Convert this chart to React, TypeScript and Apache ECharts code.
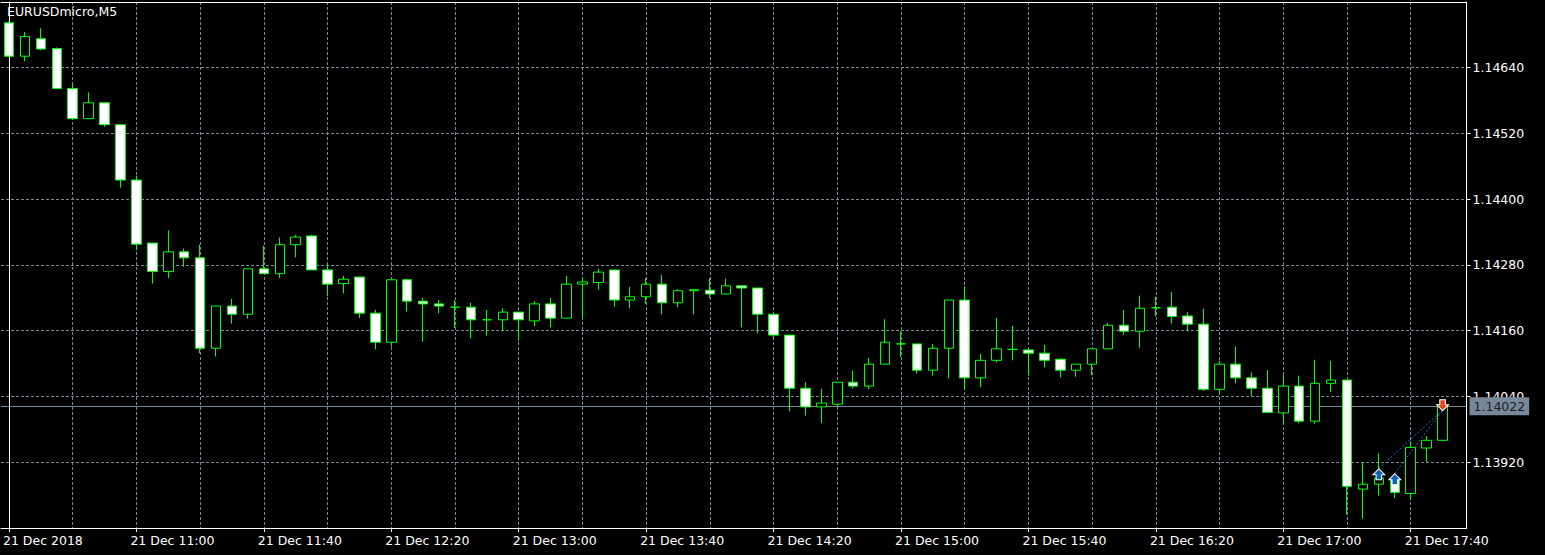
import React, { useEffect, useRef } from "react";
import * as echarts from "echarts";

const symbolName = "EURUSDmicro,M5";
const dateLabel = "21 Dec";
const firstLabel = "21 Dec 2018";

const times: string[] = [
  "10:20", "10:25", "10:30", "10:35", "10:40", "10:45", "10:50", "10:55",
  "11:00", "11:05", "11:10", "11:15", "11:20", "11:25", "11:30", "11:35", "11:40", "11:45", "11:50", "11:55",
  "12:00", "12:05", "12:10", "12:15", "12:20", "12:25", "12:30", "12:35", "12:40", "12:45", "12:50", "12:55",
  "13:00", "13:05", "13:10", "13:15", "13:20", "13:25", "13:30", "13:35", "13:40", "13:45", "13:50", "13:55",
  "14:00", "14:05", "14:10", "14:15", "14:20", "14:25", "14:30", "14:35", "14:40", "14:45", "14:50", "14:55",
  "15:00", "15:05", "15:10", "15:15", "15:20", "15:25", "15:30", "15:35", "15:40", "15:45", "15:50", "15:55",
  "16:00", "16:05", "16:10", "16:15", "16:20", "16:25", "16:30", "16:35", "16:40", "16:45", "16:50", "16:55",
  "17:00", "17:05", "17:10", "17:15", "17:20", "17:25", "17:30", "17:35", "17:40", "17:45", "17:50", "17:55",
];

const opens: number[] = [
  1.14722, 1.14661, 1.14693, 1.14675, 1.14602, 1.14547, 1.14576, 1.14536, 1.14435, 1.14320,
  1.14268, 1.14304, 1.14293, 1.14128, 1.14205, 1.14190, 1.14273, 1.14264, 1.14317, 1.14333,
  1.14271, 1.14246, 1.14258, 1.14192, 1.14139, 1.14253, 1.14214, 1.14209, 1.14203, 1.14203,
  1.14180, 1.14180, 1.14194, 1.14178, 1.14209, 1.14183, 1.14245, 1.14248, 1.14271, 1.14216,
  1.14222, 1.14245, 1.14211, 1.14233, 1.14234, 1.14227, 1.14242, 1.14238, 1.14190, 1.14152,
  1.14055, 1.14021, 1.14026, 1.14066, 1.14059, 1.14099, 1.14136, 1.14136, 1.14088, 1.14128,
  1.14216, 1.14074, 1.14106, 1.14126, 1.14125, 1.14119, 1.14108, 1.14088, 1.14099, 1.14127,
  1.14170, 1.14159, 1.14202, 1.14203, 1.14187, 1.14172, 1.14053, 1.14099, 1.14074, 1.14055,
  1.14010, 1.14059, 1.13995, 1.14064, 1.14070, 1.13871, 1.13880, 1.13891, 1.13863, 1.13946,
  1.13960,
];

const highs: number[] = [
  1.14724, 1.14705, 1.14712, 1.14677, 1.14611, 1.14595, 1.14577, 1.14536, 1.14443, 1.14320,
  1.14343, 1.14310, 1.14317, 1.14205, 1.14218, 1.14273, 1.14315, 1.14330, 1.14335, 1.14335,
  1.14282, 1.14260, 1.14258, 1.14198, 1.14255, 1.14255, 1.14220, 1.14216, 1.14216, 1.14211,
  1.14198, 1.14201, 1.14194, 1.14214, 1.14220, 1.14260, 1.14256, 1.14273, 1.14271, 1.14240,
  1.14256, 1.14262, 1.14236, 1.14235, 1.14256, 1.14255, 1.14242, 1.14238, 1.14192, 1.14152,
  1.14066, 1.14054, 1.14066, 1.14087, 1.14110, 1.14181, 1.14159, 1.14136, 1.14136, 1.14216,
  1.14241, 1.14118, 1.14183, 1.14169, 1.14127, 1.14134, 1.14110, 1.14099, 1.14127, 1.14174,
  1.14198, 1.14224, 1.14222, 1.14231, 1.14194, 1.14200, 1.14105, 1.14131, 1.14084, 1.14088,
  1.14079, 1.14078, 1.14107, 1.14105, 1.14070, 1.13920, 1.13936, 1.13891, 1.13958, 1.13968,
  1.14022,
];

const lows: number[] = [
  1.14660, 1.14652, 1.14672, 1.14602, 1.14545, 1.14547, 1.14532, 1.14421, 1.14307, 1.14246,
  1.14256, 1.14277, 1.14119, 1.14113, 1.14173, 1.14182, 1.14264, 1.14256, 1.14294, 1.14271,
  1.14223, 1.14228, 1.14183, 1.14126, 1.14131, 1.14195, 1.14140, 1.14192, 1.14165, 1.14146,
  1.14151, 1.14159, 1.14142, 1.14168, 1.14166, 1.14183, 1.14182, 1.14235, 1.14204, 1.14201,
  1.14209, 1.14190, 1.14203, 1.14190, 1.14220, 1.14227, 1.14166, 1.14155, 1.14145, 1.14013,
  1.14005, 1.13992, 1.14022, 1.14055, 1.14053, 1.14099, 1.14112, 1.14082, 1.14078, 1.14073,
  1.14053, 1.14057, 1.14102, 1.14106, 1.14078, 1.14093, 1.14075, 1.14076, 1.14079, 1.14127,
  1.14152, 1.14129, 1.14186, 1.14173, 1.14159, 1.14050, 1.14044, 1.14064, 1.14041, 1.14011,
  1.13988, 1.13991, 1.13990, 1.14048, 1.13825, 1.13817, 1.13859, 1.13855, 1.13854, 1.13921,
  1.13960,
];

const closes: number[] = [
  1.14661, 1.14697, 1.14674, 1.14602, 1.14547, 1.14576, 1.14536, 1.14435, 1.14318, 1.14268,
  1.14304, 1.14293, 1.14128, 1.14205, 1.14190, 1.14273, 1.14264, 1.14317, 1.14331, 1.14271,
  1.14245, 1.14254, 1.14192, 1.14139, 1.14253, 1.14214, 1.14209, 1.14205, 1.14203, 1.14180,
  1.14180, 1.14194, 1.14180, 1.14209, 1.14183, 1.14245, 1.14249, 1.14267, 1.14216, 1.14222,
  1.14245, 1.14211, 1.14233, 1.14235, 1.14227, 1.14242, 1.14238, 1.14190, 1.14152, 1.14055,
  1.14021, 1.14028, 1.14066, 1.14059, 1.14099, 1.14139, 1.14136, 1.14088, 1.14128, 1.14216,
  1.14074, 1.14106, 1.14127, 1.14126, 1.14119, 1.14106, 1.14088, 1.14099, 1.14127, 1.14170,
  1.14159, 1.14201, 1.14202, 1.14186, 1.14172, 1.14053, 1.14099, 1.14074, 1.14055, 1.14011,
  1.14059, 1.13995, 1.14064, 1.14070, 1.13876, 1.13880, 1.13891, 1.13865, 1.13947, 1.13960,
  1.14022,
];

const bidPrice = 1.14022;
const gridEvery = 4;
const labelEvery = 8;

// trades: two buys closed at the same bar
const buyTimes: string[] = ["17:30", "17:35"];
const buyPrices: number[] = [1.13909, 1.139];
const closeTime = "17:50";
const closePrice = 1.14015;

const UP_ARROW = "path://M6,0 L12,6 L8.8,6 L8.8,11 L3.2,11 L3.2,6 L0,6 Z";
const DOWN_ARROW = "path://M3.2,0 L8.8,0 L8.8,5 L12,5 L6,11 L0,5 L3.2,5 Z";

export default function App() {
  const ref = useRef<HTMLDivElement>(null);

  useEffect(() => {
    if (!ref.current) return;
    const chart = echarts.init(ref.current, undefined, { renderer: "svg" });

    const candles = opens.map((o, i) => [o, closes[i], lows[i], highs[i]]);

    const font = "DejaVu Sans";
    const fs = 12.5;
    const gridColor = "#778899";

    const option: any = {
      animation: false,
      backgroundColor: "#000000",
      textStyle: { fontFamily: font },
      title: {
        text: symbolName,
        left: 7,
        top: 5,
        padding: 0,
        textStyle: { color: "#ffffff", fontSize: fs, fontWeight: "normal", fontFamily: font },
      },
      grid: { left: -5.5, right: 78.5, top: 2, bottom: 27, containLabel: false },
      xAxis: [
        {
          type: "category",
          data: times,
          boundaryGap: true,
          axisLine: { show: true, onZero: false, lineStyle: { color: "#ffffff", width: 1 } },
          axisTick: {
            show: true,
            alignWithLabel: true,
            interval: labelEvery - 1,
            length: 4,
            lineStyle: { color: "#ffffff" },
          },
          axisLabel: {
            interval: labelEvery - 1,
            color: "#ffffff",
            fontSize: fs,
            fontFamily: font,
            align: "left",
            margin: 6,
            padding: [0, 0, 0, -6],
            formatter: (v: string, i: number) => (i === 0 ? firstLabel : dateLabel + " " + v),
          },
          splitLine: {
            show: true,
            alignWithLabel: true,
            interval: gridEvery - 1,
            lineStyle: { color: gridColor, type: [3, 2], width: 1 },
          },
        },
        {
          type: "category",
          data: times,
          position: "top",
          boundaryGap: true,
          axisLine: { show: true, onZero: false, lineStyle: { color: "#ffffff", width: 1 } },
          axisTick: { show: false },
          axisLabel: { show: false },
          splitLine: { show: false },
        },
      ],
      yAxis: [
        {
          type: "value",
          position: "right",
          min: 1.138,
          max: 1.147599,
          interval: 0.0012,
          axisLine: { show: true, onZero: false, lineStyle: { color: "#ffffff", width: 1 } },
          axisTick: { show: true, length: 4, lineStyle: { color: "#ffffff" } },
          axisLabel: {
            color: "#ffffff",
            fontSize: fs,
            fontFamily: font,
            margin: 6,
            padding: [0, 0, 2, 0],
            showMinLabel: false,
            showMaxLabel: false,
            formatter: (v: number) => v.toFixed(5),
          },
          splitLine: {
            show: true,
            showMinLine: false,
            showMaxLine: false,
            lineStyle: { color: gridColor, type: [3, 2], width: 1 },
          },
        },
        {
          type: "value",
          position: "left",
          offset: -8,
          min: 1.138,
          max: 1.147599,
          axisLine: { show: true, onZero: false, lineStyle: { color: "#ffffff", width: 1 } },
          axisTick: { show: false },
          axisLabel: { show: false },
          splitLine: { show: false },
        },
      ],
      series: [
        {
          type: "line",
          data: [],
          z: 1,
          silent: true,
          markLine: {
            silent: true,
            precision: 5,
            z: 1,
            symbol: ["none", "none"],
            animation: false,
            data: [
              {
                yAxis: bidPrice,
                lineStyle: { color: gridColor, type: "solid", width: 1 },
                label: {
                  show: true,
                  position: "end",
                  distance: 3,
                  formatter: bidPrice.toFixed(5),
                  backgroundColor: gridColor,
                  color: "#1b1f24",
                  fontSize: fs,
                  fontFamily: font,
                  padding: [3, 4, 2, 4],
                },
              },
            ],
          },
        },
        {
          type: "candlestick",
          data: candles,
          barWidth: 10,
          z: 2,
          itemStyle: {
            color: "#000000",
            color0: "#ffffff",
            borderColor: "#00ff00",
            borderColor0: "#00ff00",
            borderColorDoji: "#00ff00",
            borderWidth: 1,
          },
        },
        ...buyTimes.map((t, i) => ({
          type: "line",
          data: [
            [t, buyPrices[i]],
            [closeTime, closePrice],
          ],
          symbol: "none",
          z: 3,
          lineStyle: { color: "#1e74e0", type: [2, 2], width: 1 },
        })),
        {
          type: "scatter",
          data: buyTimes.map((t, i) => [t, buyPrices[i]]),
          symbol: UP_ARROW,
          symbolSize: [12, 11],
          symbolOffset: [0, 6],
          z: 4,
          itemStyle: { color: "#1262b8", borderColor: "#ffffff", borderWidth: 1, opacity: 1 },
        },
        {
          type: "scatter",
          data: [[closeTime, closePrice]],
          symbol: DOWN_ARROW,
          symbolSize: [12, 11],
          symbolOffset: [0, -5],
          z: 4,
          itemStyle: { color: "#e5471c", borderColor: "#ffffff", borderWidth: 1, opacity: 1 },
        },
      ],
    };

    chart.setOption(option);
    return () => chart.dispose();
  }, []);

  return (
    <div
      ref={ref}
      style={{ position: "fixed", left: 0, top: 0, width: 1545, height: 555, background: "#000" }}
    />
  );
}
